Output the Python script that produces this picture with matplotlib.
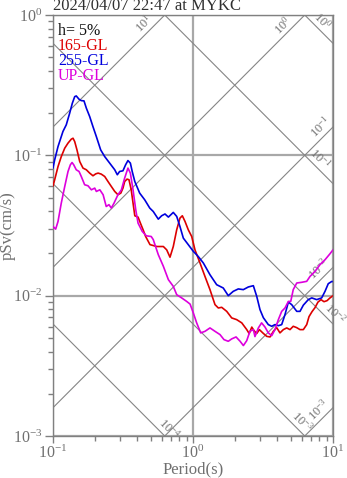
import numpy as np
import matplotlib
matplotlib.use("Agg")
import matplotlib.pyplot as plt
from matplotlib.ticker import LogLocator, LogFormatterSciNotation, NullFormatter

plt.rcParams['font.family'] = ['Liberation Serif', 'DejaVu Serif']
plt.rcParams['mathtext.fontset'] = 'custom'
plt.rcParams['mathtext.rm'] = 'Liberation Serif'
plt.rcParams['mathtext.it'] = 'Liberation Serif:italic'
plt.rcParams['mathtext.bf'] = 'Liberation Serif:bold'
plt.rcParams['axes.unicode_minus'] = False

title = "2024/04/07 22:47 at MYKC"
damping_label = "h= 5%"
component_names = ["165-GL", "255-GL", "UP-GL"]
component_colors = ["#dd0000", "#0000dd", "#dd00dd"]

# 165-GL component
period_165 = [0.100, 0.1028, 0.1086, 0.1146, 0.1213, 0.128, 0.135, 0.139, 0.1429, 0.1483,
              0.1552, 0.1638, 0.173, 0.1828, 0.193, 0.202, 0.210, 0.221, 0.234, 0.247,
              0.261, 0.276, 0.291, 0.305, 0.316, 0.325, 0.338, 0.349, 0.362, 0.373,
              0.384, 0.405, 0.421, 0.440, 0.459, 0.493, 0.551, 0.614, 0.649, 0.685,
              0.723, 0.765, 0.807, 0.839, 0.877, 0.925, 0.979, 1.033, 1.122, 1.218,
              1.322, 1.436, 1.517, 1.603, 1.741, 1.890, 2.05, 2.23, 2.42, 2.52,
              2.63, 2.73, 2.85, 2.98, 3.15, 3.36, 3.55, 3.75, 3.96, 4.18,
              4.42, 4.67, 4.93, 5.20, 5.50, 5.81, 6.14, 6.49, 6.74, 7.08,
              7.44, 7.81, 8.21, 8.62, 9.06, 9.52, 10.0]
psv_165 = [0.0607, 0.0670, 0.0832, 0.0980, 0.1125, 0.1222, 0.1303, 0.1324, 0.1253, 0.1094,
           0.0903, 0.0811, 0.0789, 0.0747, 0.0715, 0.0738, 0.0747, 0.0735, 0.0707, 0.0651,
           0.0600, 0.0553, 0.0524, 0.0538, 0.0584, 0.0651, 0.0677, 0.0670, 0.0568, 0.0457,
           0.0371, 0.0363, 0.0329, 0.0295, 0.0264, 0.0231, 0.0224, 0.0224, 0.0212, 0.0188,
           0.0224, 0.0295, 0.0357, 0.0371, 0.0338, 0.0295, 0.0264, 0.0212, 0.0171, 0.0137,
           0.01104, 0.00863, 0.00817, 0.00826, 0.00773, 0.00694, 0.00675, 0.00640, 0.00573, 0.00537,
           0.00597, 0.00563, 0.00537, 0.00573, 0.00543, 0.00513, 0.00508, 0.00557, 0.00592, 0.00543,
           0.00573, 0.00589, 0.00573, 0.00605, 0.00592, 0.00573, 0.00573, 0.00622, 0.00709, 0.00769,
           0.00822, 0.00900, 0.00937, 0.00906, 0.00921, 0.00964, 0.0100]

# 255-GL component
period_255 = [0.100, 0.1028, 0.1086, 0.1178, 0.1244, 0.1315, 0.1374, 0.1429, 0.1466, 0.1535,
              0.1592, 0.1665, 0.173, 0.1828, 0.193, 0.204, 0.219, 0.234, 0.254, 0.276,
              0.288, 0.299, 0.316, 0.330, 0.343, 0.357, 0.368, 0.384, 0.416, 0.452,
              0.491, 0.520, 0.565, 0.597, 0.631, 0.667, 0.723, 0.765, 0.807, 0.853,
              0.925, 1.005, 1.091, 1.185, 1.322, 1.476, 1.645, 1.786, 1.940, 2.107,
              2.288, 2.483, 2.698, 2.852, 3.01, 3.18, 3.45, 3.65, 3.85, 4.07,
              4.30, 4.54, 4.80, 5.07, 5.51, 5.81, 6.14, 6.66, 7.05, 7.65,
              8.30, 8.77, 9.25, 9.79, 10.0]
psv_255 = [0.0815, 0.0929, 0.1155, 0.148, 0.165, 0.1995, 0.235, 0.262, 0.265, 0.251,
           0.2455, 0.2443, 0.217, 0.189, 0.160, 0.136, 0.1094, 0.098, 0.088, 0.0789,
           0.0727, 0.0767, 0.0776, 0.0856, 0.0918, 0.0880, 0.0767, 0.0651, 0.0538, 0.0482,
           0.0421, 0.0398, 0.0351, 0.0371, 0.0382, 0.0363, 0.0392, 0.0367, 0.0311, 0.0257,
           0.0231, 0.0207, 0.0190, 0.0171, 0.0141, 0.01197, 0.01134, 0.0100, 0.01074, 0.01117,
           0.01104, 0.01153, 0.01178, 0.00989, 0.00795, 0.00697, 0.00622, 0.00605, 0.00622, 0.00611,
           0.00622, 0.00733, 0.00900, 0.00863, 0.00773, 0.00773, 0.00856, 0.00937, 0.00964, 0.00937,
           0.00964, 0.01074, 0.01217, 0.01262, 0.0126]

# UP-GL component
period_up = [0.100, 0.1045, 0.1086, 0.1146, 0.1213, 0.128, 0.133, 0.1368, 0.1406, 0.1466,
             0.1535, 0.1592, 0.1683, 0.1778, 0.188, 0.1986, 0.204, 0.216, 0.228, 0.240,
             0.251, 0.261, 0.273, 0.291, 0.308, 0.325, 0.343, 0.357, 0.373, 0.390,
             0.405, 0.434, 0.464, 0.503, 0.520, 0.565, 0.614, 0.667, 0.723, 0.765,
             0.830, 0.901, 0.953, 1.005, 1.062, 1.135, 1.218, 1.322, 1.436, 1.559,
             1.665, 1.786, 1.890, 2.03, 2.17, 2.29, 2.42, 2.55, 2.70, 2.77,
             2.93, 3.09, 3.27, 3.45, 3.65, 3.85, 4.07, 4.30, 4.54, 4.80,
             4.99, 5.20, 5.51, 5.97, 6.49, 6.85, 7.44, 8.07, 8.77, 9.52, 10.0]
psv_up = [0.0311, 0.0298, 0.0338, 0.0457, 0.0600, 0.0767, 0.0856, 0.0889, 0.0856, 0.0789,
          0.0767, 0.0707, 0.0617, 0.0607, 0.0568, 0.0584, 0.0553, 0.0568, 0.0524, 0.0432,
          0.0445, 0.0421, 0.0457, 0.0524, 0.0568, 0.0689, 0.0811, 0.0747, 0.0568, 0.0409,
          0.0329, 0.0287, 0.0267, 0.0264, 0.0251, 0.0196, 0.0162, 0.0130, 0.01165, 0.01016,
          0.00964, 0.00910, 0.00871, 0.00754, 0.00640, 0.00543, 0.00557, 0.00589, 0.00557, 0.00528,
          0.00486, 0.00473, 0.00492, 0.00508, 0.00473, 0.00441, 0.00478, 0.00557, 0.00573, 0.00511,
          0.00589, 0.00640, 0.00597, 0.00543, 0.00519, 0.00573, 0.00675, 0.00773, 0.00817, 0.00910,
          0.00910, 0.01104, 0.01231, 0.01245, 0.01265, 0.01371, 0.01489, 0.01663, 0.01803, 0.0199, 0.0212]

# Tripartite reference lines: constant pseudo-acceleration and displacement
accel_levels = [10.0, 1.0, 0.1, 0.01, 0.001]
accel_label_period = [0.493, 4.81, 9.0, 8.77, 8.77]
disp_levels = [1.0, 0.1, 0.01, 0.001, 0.0001]
disp_label_period = [7.63, 7.31, 9.29, 5.44, 0.611]

W, H = 347, 478
fig = plt.figure(figsize=(W / 100, H / 100), dpi=100)
ax = fig.add_axes([53 / W, 1 - 436 / H, 280 / W, 421 / H])
ax.set_xscale('log')
ax.set_yscale('log')
ax.set_xlim(0.1, 10)
ax.set_ylim(1e-3, 1)

grid_color = '#a8a8a8'
line_color = '#858585'
text_gray = '#707070'

ax.grid(True, which='major', color=grid_color, linewidth=1.6, zorder=1)
ax.set_axisbelow(True)

tt = np.logspace(-1, 1, 200)
two_pi = 2 * np.pi
off = 6.0
for a, tl in zip(accel_levels, accel_label_period):
    ax.plot(tt, a * tt / two_pi, color=line_color, lw=0.8, zorder=2)
    ax.annotate(r'$10^{%d}$' % int(round(np.log10(a))), xy=(tl, a * tl / two_pi),
                xytext=(-off, off), textcoords='offset pixels', rotation=45,
                rotation_mode='anchor', ha='center', va='center', fontsize=9,
                color=text_gray, zorder=3)
for d, tl in zip(disp_levels, disp_label_period):
    ax.plot(tt, two_pi * d / tt, color=line_color, lw=0.8, zorder=2)
    ax.annotate(r'$10^{%d}$' % int(round(np.log10(d))), xy=(tl, two_pi * d / tl),
                xytext=(off, off), textcoords='offset pixels', rotation=-45,
                rotation_mode='anchor', ha='center', va='center', fontsize=9,
                color=text_gray, zorder=3)

series = [(period_165, psv_165), (period_255, psv_255), (period_up, psv_up)]
for (p, v), c in zip(series, component_colors):
    ax.plot(p, v, color=c, lw=1.2, zorder=4)

for s in ax.spines.values():
    s.set_color('#808080')
    s.set_linewidth(1.0)
ax.spines['top'].set_zorder(5)
ax.spines['right'].set_zorder(5)

ax.xaxis.set_major_locator(LogLocator(base=10, numticks=10))
ax.yaxis.set_major_locator(LogLocator(base=10, numticks=10))
ax.xaxis.set_minor_locator(LogLocator(base=10, subs=np.arange(2, 10), numticks=20))
ax.yaxis.set_minor_locator(LogLocator(base=10, subs=np.arange(2, 10), numticks=20))
ax.xaxis.set_major_formatter(LogFormatterSciNotation())
ax.yaxis.set_major_formatter(LogFormatterSciNotation())
ax.xaxis.set_minor_formatter(NullFormatter())
ax.yaxis.set_minor_formatter(NullFormatter())
ax.tick_params(which='major', direction='out', length=5, width=1, color='#808080',
               labelcolor=text_gray, labelsize=11.5, pad=1.5)
ax.tick_params(which='minor', direction='out', length=3.5, width=1, color='#808080')
ax.tick_params(axis='y', which='major', length=6)

ax.set_xlabel('Period(s)', fontsize=12, color=text_gray)
ax.xaxis.label.set_va('center')
ax.xaxis.set_label_coords(0.5, -(469 - 436) / 421)
ax.set_ylabel('pSv(cm/s)', fontsize=12, color=text_gray)
ax.yaxis.label.set_va('center')
ax.yaxis.set_label_coords(-(53 - 8) / 280, 0.5)

fig.text(53 / W, 1 - 10.5 / H, title, ha='left', va='baseline', fontsize=12, color='#303030')

legend_entries = [(damping_label, '#111111')] + list(zip(component_names, component_colors))
baselines_px = [35, 50, 65, 79.5]
for (txt, c), by in zip(legend_entries, baselines_px):
    ax.text((58 - 53) / 280, 1 - (by - 15) / 421, txt, transform=ax.transAxes,
            ha='left', va='baseline', fontsize=11.5, color=c, zorder=6)

fig.savefig('out.png', dpi=100)
